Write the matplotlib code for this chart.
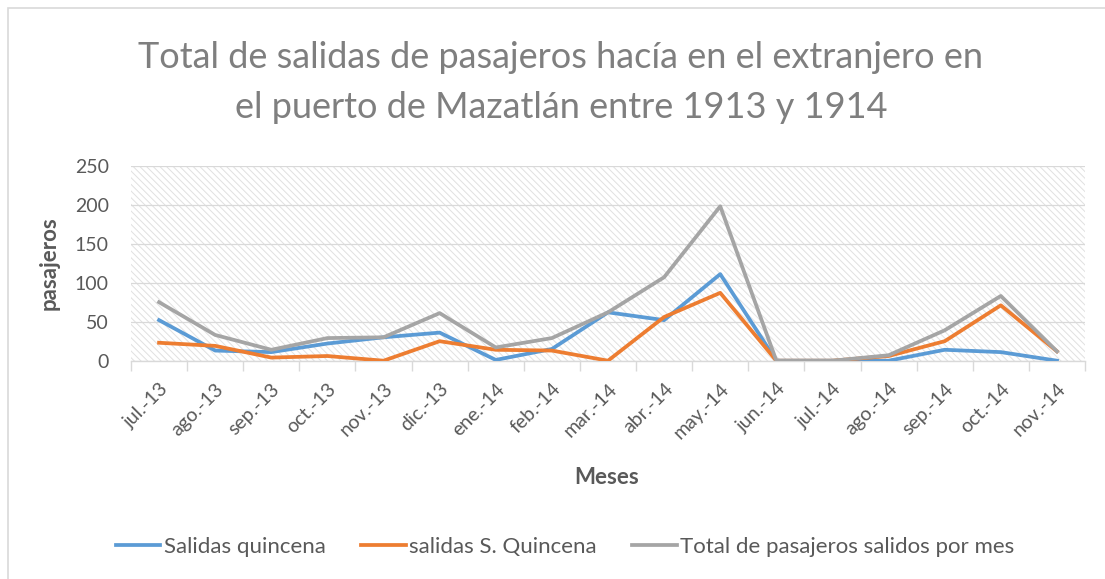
import matplotlib
matplotlib.use("Agg")
import matplotlib.pyplot as plt
from matplotlib.patches import Rectangle

meses = ["jul.-13", "ago.-13", "sep.-13", "oct.-13", "nov.-13", "dic.-13",
         "ene.-14", "feb.-14", "mar.-14", "abr.-14", "may.-14", "jun.-14",
         "jul.-14", "ago.-14", "sep.-14", "oct.-14", "nov.-14"]
salidas_quincena = [52, 13, 11, 22, 30, 36, 1, 15, 62, 52, 111, 0, 0, 0, 14, 11, 0]
salidas_s_quincena = [23, 19, 4, 6, 0, 25, 14, 13, 0, 56, 87, 0, 0, 6, 25, 71, 12]
total_mes = [75, 33, 14, 29, 30, 61, 17, 29, 62, 107, 198, 0, 0, 7, 39, 83, 12]
y_ticks = [0, 50, 100, 150, 200, 250]

plt.rcParams["font.family"] = ["Lato", "DejaVu Sans"]
plt.rcParams["hatch.linewidth"] = 0.7
plt.rcParams["hatch.color"] = "#e0e0e0"

W, H = 1105, 579
fig = plt.figure(figsize=(W / 100, H / 100), dpi=100)

# chart border
fig.patches.append(Rectangle((8 / W, -0.1), 1.2, 1 - 8 / H + 0.1,
                             transform=fig.transFigure, fill=False,
                             edgecolor="#d9d9d9", linewidth=1.2))

ax = fig.add_axes([131 / W, 1 - 360.7 / H, 954 / W, 195 / H])
ax.set_facecolor("white")
ax.add_patch(Rectangle((0, 0), 1, 1, transform=ax.transAxes, fill=False,
                       hatch="\\\\\\\\\\", edgecolor="#e0e0e0", linewidth=0,
                       zorder=0))

x = list(range(len(meses)))
ax.plot(x, salidas_quincena, color="#5B9BD5", lw=2.7, label="Salidas quincena", zorder=3)
ax.plot(x, salidas_s_quincena, color="#ED7D31", lw=2.7, label="salidas S. Quincena", zorder=3)
ax.plot(x, total_mes, color="#A5A5A5", lw=2.7, label="Total de pasajeros salidos por mes", zorder=3)

ax.set_xlim(-0.5, len(meses) - 0.5)
ax.set_ylim(0, 250)
ax.set_yticks(y_ticks)
ax.yaxis.grid(True, color="#d9d9d9", lw=0.9, zorder=1)
ax.set_axisbelow(True)
for s in ["left", "right", "top"]:
    ax.spines[s].set_visible(False)
ax.spines["bottom"].set_color("#d9d9d9")
ax.spines["bottom"].set_linewidth(1.0)
ax.tick_params(axis="y", length=0, labelsize=14, labelcolor="#595959", pad=16)

ax.set_xticks(x)
ax.set_xticklabels(meses, rotation=45, ha="right", va="top",
                   rotation_mode="anchor", fontsize=14, color="#595959")
ax.tick_params(axis="x", which="major", length=0, pad=14)
ax.set_xticks([i + 0.5 for i in range(-1, len(meses))], minor=True)
ax.tick_params(axis="x", which="minor", length=7, color="#d9d9d9", width=1)

ax.set_ylabel("pasajeros", fontsize=16, fontweight="bold", color="#595959")
ax.yaxis.set_label_coords(-71 / 954, 0.5)
fig.text(607 / W, 1 - 478 / H, "Meses", fontsize=16, fontweight="bold",
         color="#595959", ha="center", va="center")

fig.text(561 / W, 1 - 57 / H, "Total de salidas de pasajeros hacía en el extranjero en",
         fontsize=26, color="#7f7f7f", ha="center", va="center")
fig.text(561 / W, 1 - 107 / H, "el puerto de Mazatlán entre 1913 y 1914",
         fontsize=26, color="#7f7f7f", ha="center", va="center")

leg = fig.legend(loc="center", bbox_to_anchor=(565 / W, 1 - 547 / H), ncol=3,
                 frameon=False, fontsize=16, handlelength=2.0, columnspacing=1.6,
                 handletextpad=0.15)
for t in leg.get_texts():
    t.set_color("#595959")

fig.savefig("out.png", dpi=100)
